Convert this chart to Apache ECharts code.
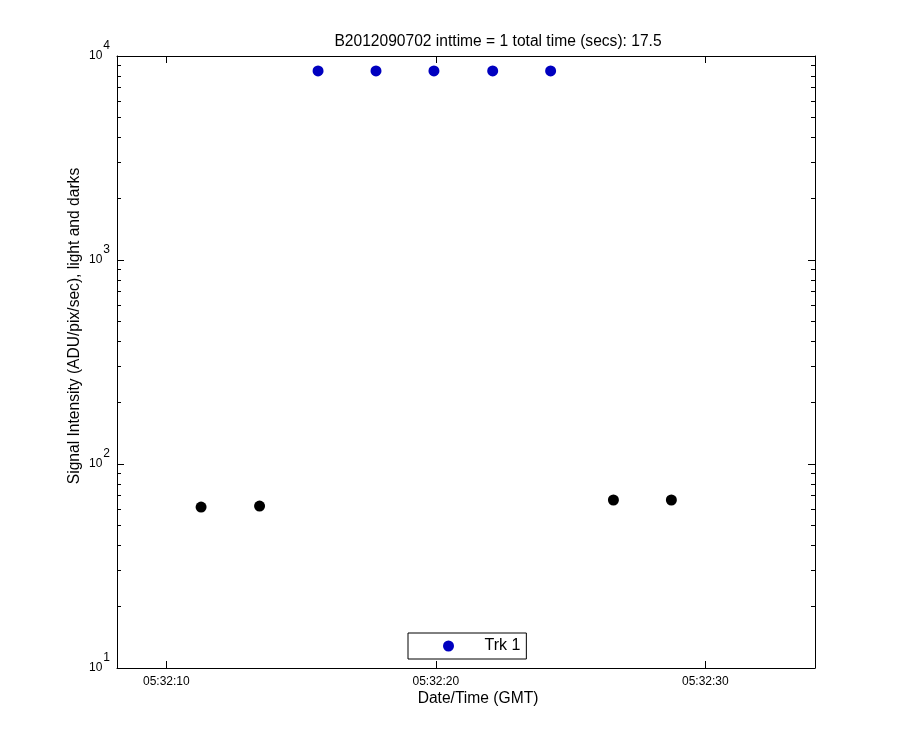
<!DOCTYPE html>
<html>
<head>
<meta charset="utf-8">
<script src="https://cdn.jsdelivr.net/npm/echarts@6/dist/echarts.min.js"></script>
<style>html,body{margin:0;padding:0;background:#fff;}#chart{width:900px;height:750px;}</style>
</head>
<body>
<div id="chart"></div>
<script>
// Seconds after 05:32:00 GMT
var lightTimes = [15.63, 17.78, 19.93, 22.11, 24.26];
var lightValues = [8445, 8445, 8445, 8445, 8445];
var darkTimes = [11.29, 13.46, 26.59, 28.74];
var darkValues = [61.5, 62.2, 66.6, 66.6];
var xTickValues = [10, 20, 30];
var yMajorTicks = [10, 100, 1000, 10000];
var yMinorTicks = [20, 30, 40, 50, 60, 70, 80, 90, 200, 300, 400, 500, 600, 700, 800, 900, 2000, 3000, 4000, 5000, 6000, 7000, 8000, 9000];
var titleText = 'B2012090702 inttime = 1 total time (secs): 17.5';
var xTitle = 'Date/Time (GMT)';
var yTitle = 'Signal Intensity (ADU/pix/sec), light and darks';
var legendName = 'Trk 1';

var FONT = 'Liberation Sans, Arial, sans-serif';
var chart = echarts.init(document.getElementById('chart'), null, {renderer: 'canvas'});

function pairs(xs, ys) { return xs.map(function (x, i) { return [x, ys[i]]; }); }
function timeLabel(v) { var s = Math.round(v); return '05:32:' + (s < 10 ? '0' + s : s); }

var xMin = 8.17, xMax = 34.07;
var lineStyle = {color: '#000', width: 1};

function yAxisDef(pos, ticks, len, showLine, showLabel) {
  return {
    type: 'log', logBase: 10, min: 10, max: 10000, position: pos, offset: 0,
    axisLine: {show: showLine, lineStyle: lineStyle},
    axisTick: {show: true, inside: true, length: len, customValues: ticks, lineStyle: lineStyle},
    axisLabel: showLabel ? {
      show: true, margin: 7, customValues: yMajorTicks,
      formatter: function (v) { return '{b|10}{e|' + Math.round(Math.log10(v)) + '}'; },
      rich: {
        b: {fontSize: 12, fontFamily: FONT, color: '#000'},
        e: {fontSize: 12, fontFamily: FONT, color: '#000', padding: [0, 0, 20, 1]}
      }
    } : {show: false},
    splitLine: {show: false}
  };
}
function xAxisDef(pos, showLabel) {
  return {
    type: 'value', min: xMin, max: xMax, position: pos,
    axisLine: {show: true, onZero: false, lineStyle: lineStyle},
    axisTick: {show: true, inside: true, length: 7, customValues: xTickValues, lineStyle: lineStyle},
    axisLabel: showLabel ? {show: true, margin: 8, customValues: xTickValues, fontSize: 12, fontFamily: FONT, color: '#000', formatter: timeLabel} : {show: false},
    splitLine: {show: false}
  };
}

chart.setOption({
  animation: false,
  backgroundColor: '#fff',
  grid: {left: 117, top: 56, width: 698, height: 612, containLabel: false},
  xAxis: [xAxisDef('bottom', true), xAxisDef('top', false)],
  yAxis: [
    yAxisDef('left', yMajorTicks, 7, true, true),
    yAxisDef('right', yMajorTicks, 7, true, false),
    yAxisDef('left', yMinorTicks, 4, false, false),
    yAxisDef('right', yMinorTicks, 4, false, false)
  ],
  legend: {
    data: [legendName], left: 408, top: 633, orient: 'horizontal',
    itemWidth: 62, itemHeight: 11, itemGap: 0,
    padding: [5, 6, 5, 35], borderColor: '#000', borderWidth: 1, backgroundColor: '#fff',
    textStyle: {fontSize: 16, fontFamily: FONT, color: '#000'},
    selectedMode: false
  },
  graphic: [
    {type: 'text', x: 498, y: 42, style: {text: titleText, fontSize: 15.6, fontFamily: FONT, fill: '#000', textAlign: 'center', textVerticalAlign: 'middle'}},
    {type: 'text', x: 478, y: 699, style: {text: xTitle, fontSize: 15.6, fontFamily: FONT, fill: '#000', textAlign: 'center', textVerticalAlign: 'middle'}},
    {type: 'text', x: 75, y: 326, rotation: Math.PI / 2, style: {text: yTitle, fontSize: 15.6, fontFamily: FONT, fill: '#000', textAlign: 'center', textVerticalAlign: 'middle'}}
  ],
  series: [
    {name: 'darks', type: 'scatter', xAxisIndex: 0, yAxisIndex: 0, symbol: 'circle', symbolSize: 11,
     itemStyle: {color: '#000000', opacity: 1}, data: pairs(darkTimes, darkValues)},
    {name: legendName, type: 'scatter', xAxisIndex: 0, yAxisIndex: 0, symbol: 'circle', symbolSize: 11,
     itemStyle: {color: '#0000C0', opacity: 1}, data: pairs(lightTimes, lightValues)}
  ]
});
</script>
</body>
</html>
